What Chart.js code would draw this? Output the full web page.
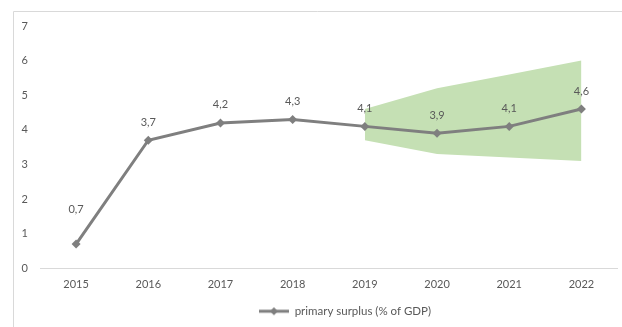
<!DOCTYPE html>
<html>
<head>
<meta charset="utf-8">
<script src="https://cdn.jsdelivr.net/npm/chart.js@4/dist/chart.umd.min.js"></script>
<style>
html,body{margin:0;padding:0;background:#fff;}
#wrap{position:absolute;left:0;top:0;width:622px;height:327px;}
</style>
</head>
<body>
<div id="wrap"><canvas id="c" width="622" height="327"></canvas></div>
<script>
const categories = ["2015","2016","2017","2018","2019","2020","2021","2022"];
const primarySurplus = [0.7, 3.7, 4.2, 4.3, 4.1, 3.9, 4.1, 4.6];
const bandUpper = [null, null, null, null, 4.6, 5.2, 5.6, 6.0];
const bandLower = [null, null, null, null, 3.7, 3.3, 3.2, 3.1];
const yTicks = [0, 1, 2, 3, 4, 5, 6, 7];
const seriesName = "primary surplus (% of GDP)";

const FONT = "Lato, 'Liberation Sans', sans-serif";
const TXT = "#595959";
const LINE = "#7f7f7f";

function legendMarker(){
  const c = document.createElement('canvas');
  c.width = 30; c.height = 10;
  const x = c.getContext('2d');
  x.strokeStyle = LINE; x.lineWidth = 3;
  x.beginPath(); x.moveTo(0,5); x.lineTo(30,5); x.stroke();
  x.fillStyle = LINE;
  x.beginPath(); x.moveTo(15,1); x.lineTo(19,5); x.lineTo(15,9); x.lineTo(11,5); x.closePath(); x.fill();
  return c;
}
const marker = legendMarker();

const framePlugin = {
  id: 'frame',
  afterLayout(chart){
    if (chart.legend) { chart.legend.left += 36; chart.legend.right += 36; }
  },
  beforeDraw(chart){
    const ctx = chart.ctx;
    ctx.save();
    ctx.strokeStyle = '#d9d9d9';
    ctx.lineWidth = 1;
    ctx.beginPath();
    ctx.moveTo(13.5, 327); ctx.lineTo(13.5, 11.5); ctx.lineTo(622, 11.5);
    ctx.stroke();
    ctx.restore();
  }
};

const labelPlugin = {
  id: 'dataLabels',
  afterDatasetsDraw(chart){
    const ctx = chart.ctx;
    const meta = chart.getDatasetMeta(2);
    ctx.save();
    ctx.font = "11px " + FONT;
    ctx.fillStyle = TXT;
    ctx.textAlign = 'center';
    ctx.textBaseline = 'middle';
    meta.data.forEach((pt, i) => {
      const v = primarySurplus[i];
      const off = i === 0 ? 35 : 18;
      ctx.fillText(String(v).replace('.', ','), pt.x, pt.y - off);
    });
    ctx.restore();
  }
};

new Chart(document.getElementById('c'), {
  type: 'line',
  data: {
    labels: categories,
    datasets: [
      { label: 'lower', data: bandLower, order: 2, borderWidth: 0, pointRadius: 0, fill: false, borderColor: 'rgba(0,0,0,0)', tension: 0 },
      { label: 'upper', data: bandUpper, order: 1, borderWidth: 0, pointRadius: 0, fill: '-1', backgroundColor: '#c5e0b4', borderColor: 'rgba(0,0,0,0)', tension: 0 },
      { label: seriesName, data: primarySurplus, order: 0, borderColor: LINE, backgroundColor: LINE, borderWidth: 3,
        pointStyle: 'rectRot', pointRadius: 4.5, pointBackgroundColor: LINE, pointBorderColor: LINE, pointBorderWidth: 0, fill: false, tension: 0 }
    ]
  },
  options: {
    responsive: false,
    animation: false,
    devicePixelRatio: 1,
    layout: { padding: { left: 0, right: 4, top: 26, bottom: 0 } },
    plugins: {
      tooltip: { enabled: false },
      legend: {
        position: 'bottom',
        labels: {
          font: { family: FONT, size: 11.5 },
          color: TXT,
          padding: 4,
          usePointStyle: true,
          pointStyleWidth: 30,
          generateLabels: (chart) => [{
            text: seriesName, pointStyle: marker, fillStyle: LINE, strokeStyle: LINE,
            lineWidth: 0, datasetIndex: 2, fontColor: TXT, hidden: false
          }]
        }
      }
    },
    scales: {
      x: {
        offset: true,
        grid: { display: false, drawTicks: false },
        border: { display: true, color: '#d9d9d9', width: 1 },
        ticks: { font: { family: FONT, size: 11 }, color: TXT, padding: 10, maxRotation: 0 }
      },
      y: {
        min: 0, max: 7,
        afterFit: (s) => { s.width = 40; },
        afterBuildTicks: (s) => { s.ticks = yTicks.map(v => ({ value: v })); },
        grid: { display: false, drawTicks: false },
        border: { display: false },
        ticks: { font: { family: FONT, size: 11 }, color: TXT, padding: 12 }
      }
    }
  },
  plugins: [framePlugin, labelPlugin]
});
</script>
</body>
</html>
